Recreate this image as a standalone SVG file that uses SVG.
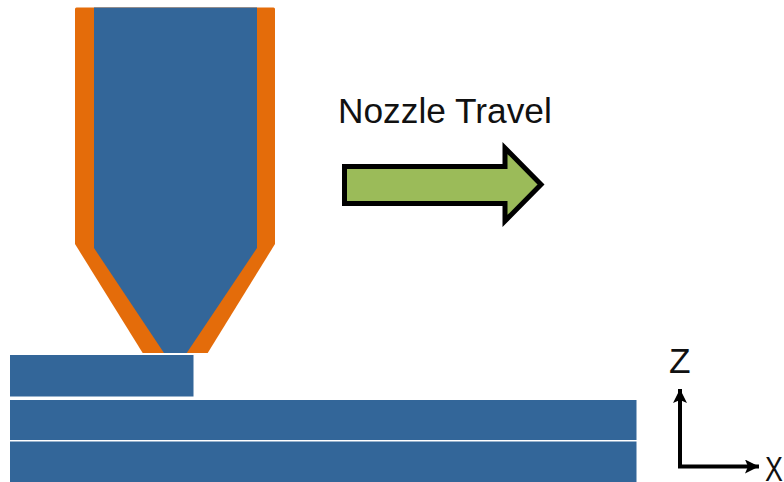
<svg xmlns="http://www.w3.org/2000/svg" width="784" height="482" viewBox="0 0 784 482">
<style>
.layer{fill:#336699}
.label{font-family:"Liberation Sans",Arial,sans-serif;font-size:35.3px;fill:#111}
.axis{fill:none;stroke:#000;stroke-width:4;stroke-linejoin:miter}
</style>
<defs>
<marker id="ah" markerUnits="userSpaceOnUse" markerWidth="16" markerHeight="14" refX="14" refY="7" orient="auto"><path d="M0 0L14 7L0 14L3 7Z" fill="#000"/></marker>
</defs>
<rect width="784" height="482" fill="#fff"/>
<g id="nozzle">
<path d="M75 9Q75 7.500 76.500 7.500H273.500Q275 7.500 275 9V244L207.700 353H142.700L75 244Z" fill="#e46c0a"/>
<path d="M94 7.500H257V248L186.700 353H164L94 248Z" class="layer"/>
</g>
<g id="layer-top"><rect class="layer" x="10" y="355" width="183.500" height="41.500"/></g>
<g id="layer-middle"><rect class="layer" x="10" y="400" width="626.500" height="40"/></g>
<g id="layer-bottom"><rect class="layer" x="10" y="441.500" width="626.500" height="40.500"/></g>
<g id="travel-arrow"><path d="M344.500 166.500H505V148L541 184.500L505 221V203.500H344.500Z" fill="#9bbb59" stroke="#000" stroke-width="5"/></g>
<g id="labels">
<text class="label" x="338" y="123">Nozzle Travel</text>
<text class="label" x="669" y="373">Z</text>
<text class="label" transform="translate(765 480.500) scale(.76 1)">X</text>
</g>
<g id="connectors">
<path class="axis" d="M680 468V389" marker-end="url(#ah)"/>
<path class="axis" d="M678 466.500H759" marker-end="url(#ah)"/>
</g>
</svg>
